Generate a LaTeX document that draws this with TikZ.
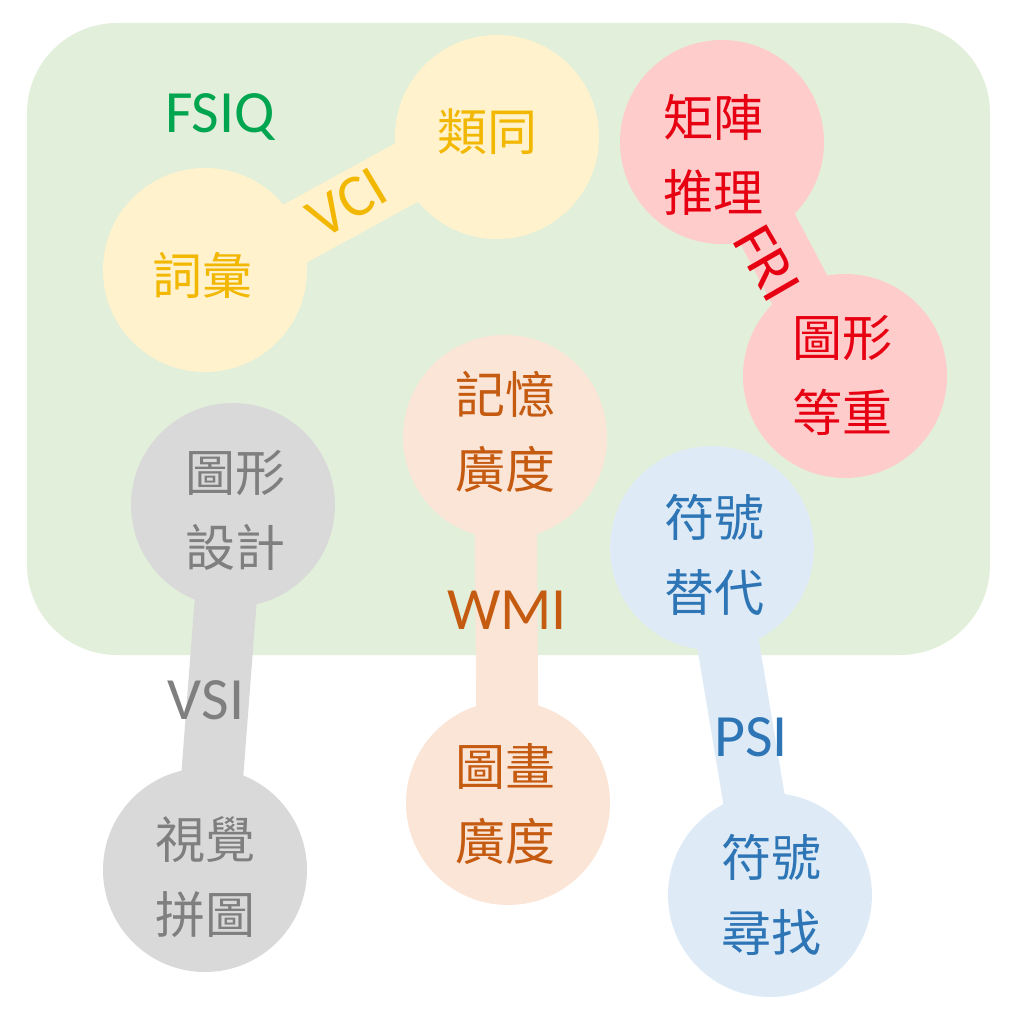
\documentclass[tikz,border=0pt]{standalone}
\usepackage{fontspec}
\setmainfont{Carlito}
\newfontfamily\cjk{Noto Sans CJK TC}
\usetikzlibrary{backgrounds,calc}

\definecolor{bggreen}{HTML}{E2EFDA}
\definecolor{fsiqc}{HTML}{00A550}
\definecolor{ylfill}{HTML}{FFF2CC}
\definecolor{yltext}{HTML}{F2B700}
\definecolor{rdfill}{HTML}{FFCCCC}
\definecolor{rdtext}{HTML}{E60012}
\definecolor{orfill}{HTML}{FBE5D6}
\definecolor{ortext}{HTML}{C55A11}
\definecolor{gyfill}{HTML}{D9D9D9}
\definecolor{gytext}{HTML}{7F7F7F}
\definecolor{blfill}{HTML}{DEEBF7}
\definecolor{bltext}{HTML}{2E75B6}

\begin{document}
\begin{tikzpicture}[x=1pt,y=-1pt,
  blob/.style={circle, inner sep=0pt, minimum size=204pt, fill=#1},
  bandline/.style={line width=62pt, draw=#1},
  subtext/.style={font=\cjk\fontsize{50}{75}\selectfont, align=center, text=#1, inner sep=0pt},
  idxlabel/.style={font=\fontsize{60}{60}\selectfont, text=#1, inner sep=0pt},
]
\useasboundingbox (0,0) rectangle (1024,1024);

% circles
\node[blob=ylfill] (c1) at (497,137) {};
\node[blob=ylfill] (c2) at (205,270) {};
\node[blob=rdfill] (c3) at (722,142) {};
\node[blob=rdfill] (c4) at (845,376) {};
\node[blob=orfill] (c5) at (505,437) {};
\node[blob=orfill] (c6) at (508,803) {};
\node[blob=gyfill] (c7) at (233,505) {};
\node[blob=gyfill] (c8) at (205,870) {};
\node[blob=blfill] (c9) at (712,548) {};
\node[blob=blfill] (c10) at (770,895) {};

% subtest texts
\node[subtext=yltext] (t1) at (487,132) {類同};
\node[subtext=yltext] (t2) at (202,275) {詞彙};
\node[subtext=rdtext] (t3) at (713,155) {矩陣\\推理};
\node[subtext=rdtext] (t4) at (842,375) {圖形\\等重};
\node[subtext=ortext] (t5) at (505,432) {記憶\\廣度};
\node[subtext=ortext] (t6) at (505,804) {圖畫\\廣度};
\node[subtext=gytext] (t7) at (235,510) {圖形\\設計};
\node[subtext=gytext] (t8) at (205,877) {視覺\\拼圖};
\node[subtext=bltext] (t9) at (714,555) {符號\\替代};
\node[subtext=bltext] (t10) at (771,895) {符號\\尋找};

% index labels
\node[idxlabel=fsiqc] (fsiq) at (220,117) {FSIQ};
\node[idxlabel=yltext, rotate=31] (vci) at (347,203) {VCI};
\node[idxlabel=rdtext, rotate=-60] (fri) at (767,263) {FRI};
\node[idxlabel=ortext] (wmi) at (507,610) {WMI};
\node[idxlabel=gytext] (vsi) at (206,700) {VSI};
\node[idxlabel=bltext] (psi) at (751,737) {PSI};

\begin{scope}[on background layer]
  \fill[bggreen, rounded corners=90pt] (27,23) rectangle (990,655);
  \draw[bandline=ylfill] ($(c2.center)+(0,13)$) -- ($(c1.center)+(0,-14)$);
  \draw[bandline=rdfill] (c3.center) -- (c4.center);
  \draw[bandline=orfill] (c5.center) -- (c6.center);
  \draw[bandline=gyfill] (c7.center) -- (c8.center);
  \draw[bandline=blfill] (c9.center) -- (c10.center);
\end{scope}
\end{tikzpicture}
\end{document}
